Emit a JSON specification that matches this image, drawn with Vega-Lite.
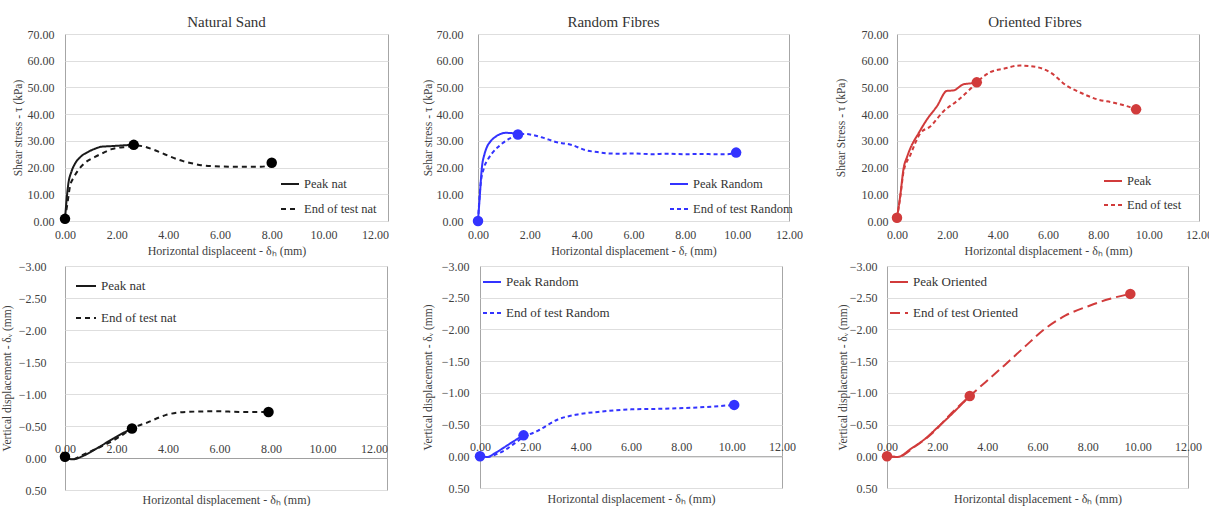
{
  "$schema": "https://vega.github.io/schema/vega-lite/v6.json",
  "padding": {"top": 14, "left": 0, "right": 0, "bottom": 0},
  "background": "white",
  "config": {
    "font": "Liberation Serif, Times New Roman, serif",
    "view": {"stroke": "#a6a6a6", "strokeWidth": 1},
    "axis": {"labelFont": "Liberation Serif, Times New Roman, serif", "labelFontSize": 12, "labelColor": "#404040", "titleFont": "Liberation Serif, Times New Roman, serif", "titleFontSize": 12, "titleFontWeight": "normal", "titleColor": "#404040", "domain": false, "ticks": false, "gridColor": "#dedede", "format": ".2f", "labelFlush": false, "labelOverlap": false, "labelBound": false},
    "axisY": {"titleFontSize": 11.5},
    "title": {"font": "Liberation Serif, Times New Roman, serif", "fontSize": 15, "fontWeight": "normal", "color": "#333333", "offset": -2},
    "legend": {"labelFont": "Liberation Serif, Times New Roman, serif", "labelFontSize": 12.5, "labelColor": "#333333", "symbolType": "stroke", "symbolSize": 324, "symbolStrokeWidth": 2, "title": null, "orient": "none"}
  },
  "datasets": {
    "nat_top": [
      {"x": 0, "y": 0.8, "s": "Peak nat"}, {"x": 0.13, "y": 14, "s": "Peak nat"}, {"x": 0.25, "y": 18.5, "s": "Peak nat"}, {"x": 0.39, "y": 21.5, "s": "Peak nat"}, {"x": 0.6, "y": 24, "s": "Peak nat"}, {"x": 0.9, "y": 25.9, "s": "Peak nat"}, {"x": 1.2, "y": 27.2, "s": "Peak nat"}, {"x": 1.41, "y": 27.8, "s": "Peak nat"}, {"x": 1.75, "y": 28, "s": "Peak nat"}, {"x": 2.06, "y": 28.2, "s": "Peak nat"}, {"x": 2.4, "y": 28.4, "s": "Peak nat"}, {"x": 2.66, "y": 28.5, "s": "Peak nat"},
      {"x": 0, "y": 0.8, "s": "End of test nat"}, {"x": 0.1, "y": 7, "s": "End of test nat"}, {"x": 0.19, "y": 12.8, "s": "End of test nat"}, {"x": 0.35, "y": 16.5, "s": "End of test nat"}, {"x": 0.51, "y": 19, "s": "End of test nat"}, {"x": 0.8, "y": 22, "s": "End of test nat"}, {"x": 1.16, "y": 24, "s": "End of test nat"}, {"x": 1.5, "y": 25.6, "s": "End of test nat"}, {"x": 1.8, "y": 26.9, "s": "End of test nat"}, {"x": 2.1, "y": 27.5, "s": "End of test nat"}, {"x": 2.44, "y": 27.8, "s": "End of test nat"}, {"x": 2.66, "y": 28.3, "s": "End of test nat"}, {"x": 3.0, "y": 28.0, "s": "End of test nat"}, {"x": 3.4, "y": 26.8, "s": "End of test nat"}, {"x": 3.73, "y": 25.5, "s": "End of test nat"}, {"x": 4.1, "y": 24, "s": "End of test nat"}, {"x": 4.57, "y": 22.4, "s": "End of test nat"}, {"x": 5.0, "y": 21.4, "s": "End of test nat"}, {"x": 5.27, "y": 20.9, "s": "End of test nat"}, {"x": 5.8, "y": 20.5, "s": "End of test nat"}, {"x": 6.56, "y": 20.3, "s": "End of test nat"}, {"x": 7.1, "y": 20.3, "s": "End of test nat"}, {"x": 7.59, "y": 20.3, "s": "End of test nat"}, {"x": 7.85, "y": 20.8, "s": "End of test nat"}, {"x": 8.0, "y": 21.8, "s": "End of test nat"}
    ],
    "nat_top_pts": [{"x": 0, "y": 0.8}, {"x": 2.66, "y": 28.5}, {"x": 8.0, "y": 21.8}],
    "ran_top": [
      {"x": 0, "y": 0, "s": "Peak Random"}, {"x": 0.06, "y": 8, "s": "Peak Random"}, {"x": 0.15, "y": 20, "s": "Peak Random"}, {"x": 0.25, "y": 25, "s": "Peak Random"}, {"x": 0.35, "y": 27.8, "s": "Peak Random"}, {"x": 0.5, "y": 30, "s": "Peak Random"}, {"x": 0.67, "y": 31.5, "s": "Peak Random"}, {"x": 0.85, "y": 32.5, "s": "Peak Random"}, {"x": 1.06, "y": 33, "s": "Peak Random"}, {"x": 1.3, "y": 32.9, "s": "Peak Random"}, {"x": 1.54, "y": 32.4, "s": "Peak Random"},
      {"x": 0, "y": 0, "s": "End of test Random"}, {"x": 0.09, "y": 12.8, "s": "End of test Random"}, {"x": 0.22, "y": 19.6, "s": "End of test Random"}, {"x": 0.38, "y": 23, "s": "End of test Random"}, {"x": 0.54, "y": 25.3, "s": "End of test Random"}, {"x": 0.75, "y": 27.5, "s": "End of test Random"}, {"x": 0.93, "y": 29, "s": "End of test Random"}, {"x": 1.15, "y": 30.5, "s": "End of test Random"}, {"x": 1.32, "y": 31.3, "s": "End of test Random"}, {"x": 1.54, "y": 32.4, "s": "End of test Random"}, {"x": 1.8, "y": 32.6, "s": "End of test Random"}, {"x": 2.1, "y": 32.2, "s": "End of test Random"}, {"x": 2.5, "y": 31.2, "s": "End of test Random"}, {"x": 3.0, "y": 29.6, "s": "End of test Random"}, {"x": 3.64, "y": 28.4, "s": "End of test Random"}, {"x": 4.15, "y": 26.5, "s": "End of test Random"}, {"x": 4.6, "y": 25.8, "s": "End of test Random"}, {"x": 5.06, "y": 25.3, "s": "End of test Random"}, {"x": 5.5, "y": 25.2, "s": "End of test Random"}, {"x": 5.96, "y": 25.3, "s": "End of test Random"}, {"x": 6.74, "y": 25, "s": "End of test Random"}, {"x": 7.3, "y": 25.2, "s": "End of test Random"}, {"x": 7.9, "y": 25, "s": "End of test Random"}, {"x": 8.6, "y": 25.1, "s": "End of test Random"}, {"x": 9.19, "y": 25, "s": "End of test Random"}, {"x": 9.6, "y": 25, "s": "End of test Random"}, {"x": 9.96, "y": 25.6, "s": "End of test Random"}
    ],
    "ran_top_pts": [{"x": 0, "y": 0}, {"x": 1.54, "y": 32.4}, {"x": 9.96, "y": 25.6}],
    "ori_top": [
      {"x": 0, "y": 1.2, "s": "Peak"}, {"x": 0.13, "y": 9.5, "s": "Peak"}, {"x": 0.26, "y": 19.6, "s": "Peak"}, {"x": 0.4, "y": 24, "s": "Peak"}, {"x": 0.53, "y": 27.2, "s": "Peak"}, {"x": 0.86, "y": 32.9, "s": "Peak"}, {"x": 1.19, "y": 38, "s": "Peak"}, {"x": 1.59, "y": 43, "s": "Peak"}, {"x": 1.98, "y": 48.7, "s": "Peak"}, {"x": 2.25, "y": 48.9, "s": "Peak"}, {"x": 2.65, "y": 51.2, "s": "Peak"}, {"x": 2.91, "y": 51.5, "s": "Peak"}, {"x": 3.17, "y": 51.9, "s": "Peak"},
      {"x": 0, "y": 1.2, "s": "End of test"}, {"x": 0.13, "y": 9, "s": "End of test"}, {"x": 0.26, "y": 18.4, "s": "End of test"}, {"x": 0.53, "y": 24.7, "s": "End of test"}, {"x": 0.93, "y": 32.9, "s": "End of test"}, {"x": 1.32, "y": 35.4, "s": "End of test"}, {"x": 1.85, "y": 41.1, "s": "End of test"}, {"x": 2.38, "y": 44.9, "s": "End of test"}, {"x": 2.91, "y": 49.4, "s": "End of test"}, {"x": 3.17, "y": 51.9, "s": "End of test"}, {"x": 3.7, "y": 55.7, "s": "End of test"}, {"x": 4.23, "y": 57, "s": "End of test"}, {"x": 4.89, "y": 58.2, "s": "End of test"}, {"x": 5.56, "y": 57.6, "s": "End of test"}, {"x": 6.08, "y": 55.7, "s": "End of test"}, {"x": 6.75, "y": 50.6, "s": "End of test"}, {"x": 7.28, "y": 48.1, "s": "End of test"}, {"x": 7.94, "y": 45.6, "s": "End of test"}, {"x": 8.6, "y": 44.3, "s": "End of test"}, {"x": 9.13, "y": 43, "s": "End of test"}, {"x": 9.5, "y": 41.8, "s": "End of test"}
    ],
    "ori_top_pts": [{"x": 0, "y": 1.2}, {"x": 3.17, "y": 51.9}, {"x": 9.5, "y": 41.8}],
    "nat_bot": [
      {"x": 0, "y": 0, "s": "Peak nat"}, {"x": 0.3, "y": 0.02, "s": "Peak nat"}, {"x": 0.69, "y": -0.03, "s": "Peak nat"}, {"x": 1.23, "y": -0.15, "s": "Peak nat"}, {"x": 1.9, "y": -0.31, "s": "Peak nat"}, {"x": 2.3, "y": -0.4, "s": "Peak nat"}, {"x": 2.6, "y": -0.46, "s": "Peak nat"},
      {"x": 0, "y": 0, "s": "End of test nat"}, {"x": 0.3, "y": 0.02, "s": "End of test nat"}, {"x": 0.69, "y": -0.05, "s": "End of test nat"}, {"x": 1.3, "y": -0.16, "s": "End of test nat"}, {"x": 1.9, "y": -0.28, "s": "End of test nat"}, {"x": 2.3, "y": -0.38, "s": "End of test nat"}, {"x": 2.6, "y": -0.46, "s": "End of test nat"}, {"x": 3.23, "y": -0.56, "s": "End of test nat"}, {"x": 3.9, "y": -0.67, "s": "End of test nat"}, {"x": 4.7, "y": -0.72, "s": "End of test nat"}, {"x": 5.9, "y": -0.73, "s": "End of test nat"}, {"x": 6.83, "y": -0.72, "s": "End of test nat"}, {"x": 7.9, "y": -0.72, "s": "End of test nat"}
    ],
    "nat_bot_pts": [{"x": 0, "y": -0.02}, {"x": 2.6, "y": -0.46}, {"x": 7.9, "y": -0.72}],
    "ran_bot": [
      {"x": 0, "y": 0, "s": "Peak Random"}, {"x": 0.29, "y": 0.01, "s": "Peak Random"}, {"x": 0.6, "y": -0.05, "s": "Peak Random"}, {"x": 0.96, "y": -0.14, "s": "Peak Random"}, {"x": 1.35, "y": -0.24, "s": "Peak Random"}, {"x": 1.73, "y": -0.33, "s": "Peak Random"},
      {"x": 0, "y": 0, "s": "End of test Random"}, {"x": 0.3, "y": 0.01, "s": "End of test Random"}, {"x": 0.69, "y": -0.04, "s": "End of test Random"}, {"x": 1.0, "y": -0.1, "s": "End of test Random"}, {"x": 1.36, "y": -0.2, "s": "End of test Random"}, {"x": 1.73, "y": -0.3, "s": "End of test Random"}, {"x": 2.29, "y": -0.4, "s": "End of test Random"}, {"x": 3.09, "y": -0.58, "s": "End of test Random"}, {"x": 3.88, "y": -0.66, "s": "End of test Random"}, {"x": 4.68, "y": -0.7, "s": "End of test Random"}, {"x": 6.01, "y": -0.74, "s": "End of test Random"}, {"x": 7.34, "y": -0.75, "s": "End of test Random"}, {"x": 8.67, "y": -0.77, "s": "End of test Random"}, {"x": 10.1, "y": -0.81, "s": "End of test Random"}
    ],
    "ran_bot_pts": [{"x": 0, "y": 0}, {"x": 1.73, "y": -0.33}, {"x": 10.1, "y": -0.81}],
    "ori_bot": [
      {"x": 0, "y": 0, "s": "Peak Oriented"}, {"x": 0.43, "y": 0.01, "s": "Peak Oriented"}, {"x": 0.96, "y": -0.12, "s": "Peak Oriented"}, {"x": 1.5, "y": -0.27, "s": "Peak Oriented"}, {"x": 2.03, "y": -0.46, "s": "Peak Oriented"}, {"x": 2.57, "y": -0.66, "s": "Peak Oriented"}, {"x": 3.1, "y": -0.87, "s": "Peak Oriented"}, {"x": 3.3, "y": -0.95, "s": "Peak Oriented"},
      {"x": 0, "y": 0, "s": "End of test Oriented"}, {"x": 0.43, "y": 0.01, "s": "End of test Oriented"}, {"x": 1.1, "y": -0.15, "s": "End of test Oriented"}, {"x": 1.77, "y": -0.35, "s": "End of test Oriented"}, {"x": 2.57, "y": -0.68, "s": "End of test Oriented"}, {"x": 3.3, "y": -0.95, "s": "End of test Oriented"}, {"x": 3.9, "y": -1.16, "s": "End of test Oriented"}, {"x": 4.7, "y": -1.44, "s": "End of test Oriented"}, {"x": 5.5, "y": -1.73, "s": "End of test Oriented"}, {"x": 6.3, "y": -2.01, "s": "End of test Oriented"}, {"x": 7.12, "y": -2.22, "s": "End of test Oriented"}, {"x": 8.05, "y": -2.37, "s": "End of test Oriented"}, {"x": 8.86, "y": -2.48, "s": "End of test Oriented"}, {"x": 9.7, "y": -2.56, "s": "End of test Oriented"}
    ],
    "ori_bot_pts": [{"x": 0, "y": 0}, {"x": 3.3, "y": -0.95}, {"x": 9.7, "y": -2.56}]
  },
  "columns": 3,
  "align": "none",
  "spacing": {"row": 2, "column": 31},
  "concat": [
    {
      "width": 323, "height": 187,
      "title": {"text": "Natural Sand"},
      "encoding": {
        "x": {"field": "x", "type": "quantitative", "scale": {"domain": [0, 12.5], "nice": false}, "axis": {"values": [0, 2, 4, 6, 8, 10, 12], "grid": false, "labelPadding": 8, "titlePadding": 5, "title": "Horizontal displaceent - δₕ (mm)"}},
        "y": {"field": "y", "type": "quantitative", "scale": {"domain": [0, 70], "nice": false}, "axis": {"values": [0, 10, 20, 30, 40, 50, 60, 70], "labelPadding": 11, "titlePadding": 4, "title": "Shear stress - τ (kPa)"}}
      },
      "layer": [
        {"data": {"name": "nat_top"}, "mark": {"type": "line", "interpolate": "monotone", "strokeWidth": 2, "color": "#1a1a1a"},
         "encoding": {
           "strokeDash": {"field": "s", "type": "nominal", "scale": {"domain": ["Peak nat", "End of test nat"], "range": [[1, 0], [5, 4]]}, "legend": {"legendX": 215, "legendY": 140, "rowPadding": 8, "symbolStrokeColor": "#1a1a1a"}}
         }},
        {"data": {"name": "nat_top_pts"}, "mark": {"type": "point", "filled": true, "size": 110, "color": "#000000", "opacity": 1}}
      ]
    },
    {
      "width": 311, "height": 187,
      "title": {"text": "Random Fibres", "dx": -20},
      "encoding": {
        "x": {"field": "x", "type": "quantitative", "scale": {"domain": [0, 12], "nice": false}, "axis": {"values": [0, 2, 4, 6, 8, 10, 12], "grid": false, "labelPadding": 8, "titlePadding": 5, "title": "Horizontal displacement - δᵣ (mm)"}},
        "y": {"field": "y", "type": "quantitative", "scale": {"domain": [0, 70], "nice": false}, "axis": {"values": [0, 10, 20, 30, 40, 50, 60, 70], "labelPadding": 15, "titlePadding": 3, "title": "Sehar stress - τ (kPa)"}}
      },
      "layer": [
        {"data": {"name": "ran_top"}, "mark": {"type": "line", "interpolate": "monotone", "strokeWidth": 2, "color": "#3333ff"},
         "encoding": {
           "strokeDash": {"field": "s", "type": "nominal", "scale": {"domain": ["Peak Random", "End of test Random"], "range": [[1, 0], [4, 3]]}, "legend": {"legendX": 191, "legendY": 140, "rowPadding": 8, "symbolStrokeColor": "#3333ff"}}
         }},
        {"data": {"name": "ran_top_pts"}, "mark": {"type": "point", "filled": true, "size": 110, "color": "#3333ff", "opacity": 1}}
      ]
    },
    {
      "width": 302, "height": 187,
      "title": {"text": "Oriented Fibres", "dx": -13},
      "encoding": {
        "x": {"field": "x", "type": "quantitative", "scale": {"domain": [0, 12], "nice": false}, "axis": {"values": [0, 2, 4, 6, 8, 10, 12], "grid": false, "labelPadding": 8, "titlePadding": 5, "title": "Horizontal displacement - δₕ (mm)"}},
        "y": {"field": "y", "type": "quantitative", "scale": {"domain": [0, 70], "nice": false}, "axis": {"values": [0, 10, 20, 30, 40, 50, 60, 70], "labelPadding": 9, "titlePadding": 15, "title": "Shear Stress - τ (kPa)"}}
      },
      "layer": [
        {"data": {"name": "ori_top"}, "mark": {"type": "line", "interpolate": "monotone", "strokeWidth": 2, "color": "#d13b3b"},
         "encoding": {
           "strokeDash": {"field": "s", "type": "nominal", "scale": {"domain": ["Peak", "End of test"], "range": [[1, 0], [4, 3]]}, "legend": {"legendX": 206, "legendY": 137, "rowPadding": 7, "symbolStrokeColor": "#d13b3b"}}
         }},
        {"data": {"name": "ori_top_pts"}, "mark": {"type": "point", "filled": true, "size": 110, "color": "#d13b3b", "opacity": 1}}
      ]
    },
    {
      "width": 322, "height": 224,
      "encoding": {
        "y": {"field": "y", "type": "quantitative", "scale": {"domain": [-3, 0.5], "nice": false, "reverse": true}, "axis": {"values": [-3, -2.5, -2, -1.5, -1, -0.5, 0, 0.5], "labelPadding": 19, "titlePadding": 6, "title": "Vertical displacement - δᵥ (mm)"}}
      },
      "layer": [
        {"data": {"name": "nat_bot"}, "mark": {"type": "line", "interpolate": "monotone", "strokeWidth": 2, "color": "#1a1a1a"},
         "encoding": {
           "x": {"field": "x", "type": "quantitative", "scale": {"domain": [0, 12.5], "nice": false}, "axis": {"orient": "top", "offset": -192, "values": [0, 2, 4, 6, 8, 10, 12], "grid": false, "domain": true, "domainColor": "#a0a0a0", "labelPadding": 3, "title": null}},
           "strokeDash": {"field": "s", "type": "nominal", "scale": {"domain": ["Peak nat", "End of test nat"], "range": [[1, 0], [5, 4]]}, "legend": {"legendX": 10, "legendY": 9, "rowPadding": 14, "labelFontSize": 13, "symbolSize": 400, "symbolStrokeColor": "#1a1a1a"}}
         }},
        {"data": {"name": "nat_bot_pts"}, "mark": {"type": "point", "filled": true, "size": 110, "color": "#000000", "opacity": 1},
         "encoding": {"x": {"field": "x", "type": "quantitative", "axis": {"orient": "bottom", "labels": false, "grid": false, "titlePadding": 4, "title": "Horizontal displacement - δₕ (mm)"}}}}
      ],
      "resolve": {"axis": {"x": "independent"}}
    },
    {
      "width": 302, "height": 222,
      "encoding": {
        "y": {"field": "y", "type": "quantitative", "scale": {"domain": [-3, 0.5], "nice": false, "reverse": true}, "axis": {"values": [-3, -2.5, -2, -1.5, -1, -0.5, 0, 0.5], "labelPadding": 11, "titlePadding": 8, "title": "Vertical displacement - δᵥ (mm)"}}
      },
      "layer": [
        {"data": {"name": "ran_bot"}, "mark": {"type": "line", "interpolate": "monotone", "strokeWidth": 2, "color": "#3333ff"},
         "encoding": {
           "x": {"field": "x", "type": "quantitative", "scale": {"domain": [0, 12], "nice": false}, "axis": {"orient": "top", "offset": -190.3, "values": [0, 2, 4, 6, 8, 10, 12], "grid": false, "domain": true, "domainColor": "#a0a0a0", "labelPadding": 3, "title": null}},
           "strokeDash": {"field": "s", "type": "nominal", "scale": {"domain": ["Peak Random", "End of test Random"], "range": [[1, 0], [4, 3]]}, "legend": {"legendX": 2, "legendY": 6, "rowPadding": 14, "labelFontSize": 13, "symbolSize": 324, "symbolStrokeColor": "#3333ff"}}
         }},
        {"data": {"name": "ran_bot_pts"}, "mark": {"type": "point", "filled": true, "size": 110, "color": "#3333ff", "opacity": 1},
         "encoding": {"x": {"field": "x", "type": "quantitative", "axis": {"orient": "bottom", "labels": false, "grid": false, "titlePadding": 5, "title": "Horizontal displacement - δₕ (mm)"}}}}
      ],
      "resolve": {"axis": {"x": "independent"}}
    },
    {
      "width": 301, "height": 222,
      "encoding": {
        "y": {"field": "y", "type": "quantitative", "scale": {"domain": [-3, 0.5], "nice": false, "reverse": true}, "axis": {"values": [-3, -2.5, -2, -1.5, -1, -0.5, 0, 0.5], "labelPadding": 10, "titlePadding": 1, "title": "Vertical displacement - δᵥ (mm)"}}
      },
      "layer": [
        {"data": {"name": "ori_bot"}, "mark": {"type": "line", "interpolate": "monotone", "strokeWidth": 2, "color": "#d13b3b"},
         "encoding": {
           "x": {"field": "x", "type": "quantitative", "scale": {"domain": [0, 12], "nice": false}, "axis": {"orient": "top", "offset": -190.3, "values": [0, 2, 4, 6, 8, 10, 12], "grid": false, "domain": true, "domainColor": "#a0a0a0", "labelPadding": 3, "title": null}},
           "strokeDash": {"field": "s", "type": "nominal", "scale": {"domain": ["Peak Oriented", "End of test Oriented"], "range": [[1, 0], [10, 5]]}, "legend": {"legendX": 2, "legendY": 6, "rowPadding": 14, "labelFontSize": 13, "symbolSize": 324, "symbolStrokeColor": "#d13b3b"}}
         }},
        {"data": {"name": "ori_bot_pts"}, "mark": {"type": "point", "filled": true, "size": 110, "color": "#d13b3b", "opacity": 1},
         "encoding": {"x": {"field": "x", "type": "quantitative", "axis": {"orient": "bottom", "labels": false, "grid": false, "titlePadding": 5, "title": "Horizontal displacement - δₕ (mm)"}}}}
      ],
      "resolve": {"axis": {"x": "independent"}}
    }
  ],
  "resolve": {"scale": {"strokeDash": "independent"}, "legend": {"strokeDash": "independent"}}
}
